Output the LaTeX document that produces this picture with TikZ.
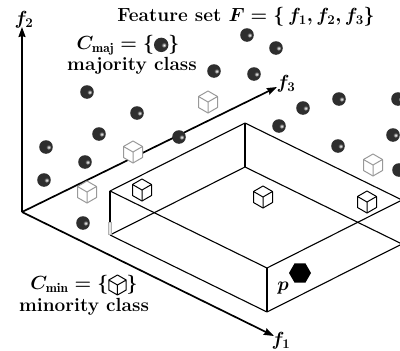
\RequirePackage{fix-cm}
\documentclass[tikz,border=0pt]{standalone}
\usepackage{fontspec}
\usetikzlibrary{arrows.meta,shapes.geometric}
\tikzset{
  sphere/.pic={
    \fill[black!82] (0,0) circle (6.8);
    \shade[inner color=white,outer color=black!82] (2.6,0.2) circle (2.6);
  },
  cube/.pic={
    \path[fill=white,line width=1pt,line join=round,pic actions]
      (0,-11) -- (9.5,-5.5) -- (9.5,5.5) -- (0,11) -- (-9.5,5.5) -- (-9.5,-5.5) -- cycle;
    \path[line width=1pt,pic actions] (0,0) -- (-9.5,-5.5) (0,0) -- (9.5,-5.5) (0,0) -- (0,11);
  },
  axisline/.style={line width=1.7pt,-{Stealth[length=10pt,width=7pt,inset=1pt]}},
  boxedge/.style={line width=1.1pt,line join=round},
  lbl/.style={font=\fontsize{19}{22}\selectfont\bfseries\boldmath,inner sep=0pt},
}
\newcommand{\balltxt}{\tikz[x=1pt,y=1pt,baseline=-4.5pt]{\fill[black!82] (0,0) circle (7.2); \shade[inner color=white,outer color=black!82] (2.7,-0.2) circle (2.7);}}
\newcommand{\cubetxt}{\tikz[x=1pt,y=-1pt,baseline=-4.5pt]{\draw[line width=1pt,line join=round]
      (0,-10) -- (8.7,-5) -- (8.7,5) -- (0,10) -- (-8.7,5) -- (-8.7,-5) -- cycle
      (0,0) -- (-8.7,-5) (0,0) -- (8.7,-5) (0,0) -- (0,10);}}
\begin{document}
\begin{tikzpicture}[x=1pt,y=-1pt]
\useasboundingbox (0,0) rectangle (400,351);
\begin{scope}
\clip (0,0) rectangle (400,351);
% axes
\coordinate (O) at (22,212);
\coordinate (T2) at (22,27);
\coordinate (T3) at (277,87);
\coordinate (T1) at (274,336);
\draw[axisline] (O) -- (T2);
\draw[axisline] (O) -- (T3);
\draw[axisline] (O) -- (T1);
% box
\coordinate (L) at (110,191);
\coordinate (B) at (245,123);
\coordinate (R) at (402,200);
\coordinate (F) at (267,268);
\coordinate (Lb) at (110,235);
\coordinate (Bb) at (245,167);
\coordinate (Rb) at (402,244);
\coordinate (Fb) at (267,312);
\draw[boxedge] (L) -- (B) -- (R) -- (F) -- cycle;
\draw[boxedge] (L) -- (Lb) (B) -- (Bb) (F) -- (Fb) (R) -- (Rb);
\draw[boxedge] (Lb) -- (Fb) -- (Rb) (Lb) -- (Bb) -- (Rb);
\draw[gray!60,fill=gray!20,line width=0.5pt] (108.6,222) rectangle (111.4,234);
% majority spheres
\foreach \p [count=\i] in {(87,92),(137,113),(99,134),(46,147),(85,162),(44,180),(179,137),(83,223),
  (247,35),(276,48),(214,71),(254,74),(303,108),(339,99),(398,99),(279,126),(338,146),(393,135),(399,170)}
  \pic (s\i) at \p {sphere};
% minority cubes outside (gray)
\foreach \p [count=\i] in {(208,102),(133,152),(87,192),(373,165)}
  \pic[draw=black!40] (g\i) at \p {cube};
% minority cubes inside box (black)
\foreach \p [count=\i] in {(142,190),(263,197),(367,202)}
  \pic[draw=black] (k\i) at \p {cube};
% point p
\node[regular polygon,regular polygon sides=6,fill=black,minimum size=22pt,inner sep=0pt] (P) at (300,273) {};
\end{scope}
% labels
\node[lbl] (f2lab) at (24,20) {$f_2$};
\node[lbl] (f3lab) at (286,84) {$f_3$};
\node[lbl] (f1lab) at (281,341) {$f_1$};
\node[lbl] (plab) at (283,288) {$p$};
\node[lbl] (title) at (246,17) {Feature set $F=\{\,f_1,f_2,f_3\}$};
\node[lbl] (cmaj) at (128,45) {$C_{\mathrm{maj}}=\{\balltxt\}$};
\node[lbl] (majtxt) at (132,66) {majority class};
\node[lbl] (cmin) at (84,285) {$C_{\mathrm{min}}=\{\cubetxt\}$};
\node[lbl] (mintxt) at (84,307) {minority class};
\end{tikzpicture}
\end{document}
